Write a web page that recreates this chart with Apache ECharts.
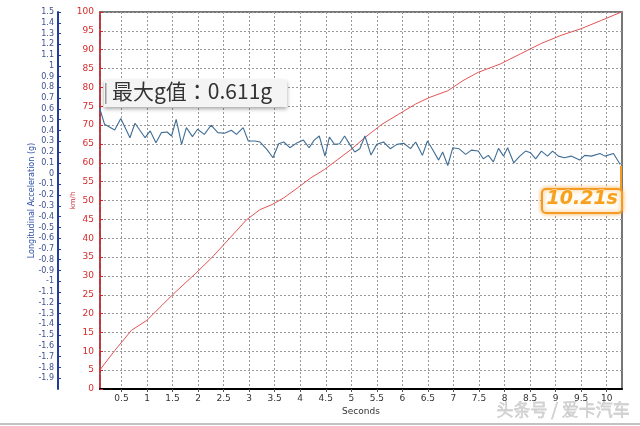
<!DOCTYPE html>
<html>
<head>
<meta charset="utf-8">
<script src="https://cdn.jsdelivr.net/npm/echarts@6/dist/echarts.min.js"></script>
<style>
html,body{margin:0;padding:0;background:#fff;}
#chart{width:640px;height:426px;}
</style>
</head>
<body>
<div id="chart"></div>
<script>
// ---- data ----
const gTime = [0.07,0.169,0.368,0.487,0.666,0.765,0.963,1.063,1.175,1.281,1.394,1.48,1.572,1.678,1.771,1.89,1.99,2.122,2.254,2.387,2.519,2.652,2.751,2.883,2.983,3.115,3.214,3.347,3.466,3.578,3.678,3.797,3.943,4.062,4.174,4.274,4.373,4.485,4.571,4.671,4.77,4.869,4.969,5.068,5.167,5.267,5.386,5.498,5.631,5.763,5.895,6.028,6.16,6.26,6.392,6.491,6.591,6.71,6.789,6.889,6.988,7.107,7.24,7.352,7.485,7.584,7.683,7.782,7.882,7.981,8.06,8.18,8.299,8.411,8.51,8.61,8.722,8.842,8.941,9.053,9.173,9.305,9.471,9.57,9.702,9.868,9.967,10.133,10.265];
const gValue = [0.611,0.458,0.405,0.511,0.333,0.467,0.333,0.396,0.287,0.38,0.386,0.349,0.504,0.271,0.427,0.343,0.411,0.364,0.449,0.38,0.374,0.402,0.364,0.427,0.302,0.302,0.293,0.224,0.147,0.277,0.293,0.24,0.287,0.311,0.24,0.311,0.349,0.162,0.339,0.271,0.277,0.349,0.271,0.2,0.231,0.349,0.172,0.271,0.293,0.231,0.271,0.281,0.231,0.293,0.169,0.302,0.224,0.125,0.2,0.075,0.24,0.231,0.178,0.218,0.209,0.137,0.169,0.109,0.234,0.162,0.24,0.1,0.162,0.209,0.193,0.137,0.209,0.162,0.209,0.162,0.147,0.162,0.125,0.169,0.162,0.187,0.162,0.187,0.084];
const speedTime = [0.07,0.368,0.699,0.997,1.294,1.493,1.956,2.287,2.619,2.95,3.214,3.446,3.678,3.943,4.207,4.472,4.737,5.002,5.267,5.598,5.929,6.26,6.524,6.889,7.186,7.485,7.915,8.312,8.709,9.106,9.504,9.901,10.29];
const speedValue = [4.9,10.2,15.6,18.2,22.2,24.9,30.7,35.1,40,44.9,47.6,48.9,50.7,53.3,56,58.2,60.9,63.6,66.7,70.2,72.9,75.6,77.3,79.1,81.8,84,86.2,88.9,91.6,93.8,95.6,97.8,100];
const xTicks = [0.5,1,1.5,2,2.5,3,3.5,4,4.5,5,5.5,6,6.5,7,7.5,8,8.5,9,9.5,10];
const maxGText = '最大g值：0.611g';
const timeText = '10.21s';
const watermark = '头条号 / 爱卡汽车';

const gSeries = gTime.map((t, i) => [t, gValue[i]]);
const speedSeries = speedTime.map((t, i) => [t, speedValue[i]]);

const chart = echarts.init(document.getElementById('chart'), null, {renderer: 'canvas'});
const gridDash = {color: '#9a9a9a', width: 1, type: [2, 2]};

chart.setOption({
  animation: false,
  backgroundColor: '#fff',
  grid: {left: 100, right: 18, top: 12, bottom: 37, show: true, borderColor: '#4a4a4a', borderWidth: 1.5, backgroundColor: 'transparent'},
  xAxis: {
    type: 'value', min: 0.08, max: 10.3,
    name: 'Seconds', nameLocation: 'middle', nameGap: 18, nameMoveOverlap: false,
    nameTextStyle: {fontSize: 9, color: '#333', fontFamily: 'DejaVu Sans'},
    axisLine: {show: true, onZero: false, lineStyle: {color: '#000', width: 2}},
    axisTick: {show: true, length: 3, customValues: xTicks, lineStyle: {color: '#555'}},
    axisLabel: {customValues: xTicks, fontSize: 9, color: '#333', margin: 5, fontFamily: 'DejaVu Sans'},
    splitLine: {show: true, lineStyle: gridDash}
  },
  yAxis: [
    {
      type: 'value', position: 'left', offset: 42, min: -2, max: 1.5, interval: 0.1,
      name: 'Longitudinal Acceleration (g)', nameLocation: 'middle', nameGap: 22, nameMoveOverlap: false,
      nameTextStyle: {fontSize: 8, color: '#2d4fa6', fontFamily: 'DejaVu Sans'},
      axisLine: {show: true, onZero: false, lineStyle: {color: '#1f3c9e', width: 2}},
      axisTick: {show: true, inside: true, length: 3, lineStyle: {color: '#1f3c9e'}},
      axisLabel: {fontSize: 8, color: '#3c4f8e', margin: 4, showMinLabel: false, fontFamily: 'DejaVu Sans'},
      splitLine: {show: false}
    },
    {
      type: 'value', position: 'left', offset: 0, min: 0, max: 100, interval: 5,
      name: 'km/h', nameLocation: 'middle', nameGap: 23, nameMoveOverlap: false,
      nameTextStyle: {fontSize: 7, color: '#c8262c', fontFamily: 'DejaVu Sans'},
      axisLine: {show: true, onZero: false, lineStyle: {color: '#d8242b', width: 1.5, type: [6, 2]}},
      axisTick: {show: true, inside: true, length: 3, lineStyle: {color: '#d8242b'}},
      axisLabel: {fontSize: 9, color: '#d42a2a', margin: 6, fontFamily: 'DejaVu Sans'},
      splitLine: {show: true, lineStyle: gridDash}
    }
  ],
  series: [
    {
      type: 'line', yAxisIndex: 1, data: speedSeries, symbol: 'none',
      lineStyle: {color: '#e25454', width: 1}, z: 3
    },
    {
      type: 'line', yAxisIndex: 0, data: gSeries, symbol: 'none',
      lineStyle: {color: '#3f6d94', width: 1.1}, z: 4,
      markLine: {
        silent: true, symbol: 'none', label: {show: false},
        lineStyle: {color: '#f59a23', width: 2, type: 'solid'},
        data: [[{coord: [10.27, 0.07]}, {coord: [10.27, -0.16]}]]
      }
    }
  ],
  graphic: [
    {
      type: 'rect', left: 104, top: 80, z: 50,
      shape: {width: 183, height: 27},
      style: {fill: '#f4f4f4', shadowColor: 'rgba(0,0,0,0.35)', shadowBlur: 4, shadowOffsetY: 2}
    },
    {
      type: 'rect', left: 105, top: 83, z: 51,
      shape: {width: 1.5, height: 21},
      style: {fill: '#9a9a9a'}
    },
    {
      type: 'text', left: 112, top: 81, z: 52,
      style: {text: maxGText, fontSize: 21, fill: '#333', fontFamily: '"Noto Sans CJK TC", "Noto Sans CJK SC", sans-serif'}
    },
    {
      type: 'rect', left: 541, top: 188, z: 50,
      shape: {width: 80, height: 24, r: 4},
      style: {fill: 'rgba(255,255,255,0.95)', stroke: '#f59a23', lineWidth: 2, shadowColor: 'rgba(245,154,35,0.7)', shadowBlur: 4}
    },
    {
      type: 'text', left: 546, top: 189, z: 52,
      style: {text: timeText, fontSize: 19, fontStyle: 'italic', fontWeight: 'bold', fill: '#f7a01e',
        stroke: '#fff4d8', lineWidth: 1, fontFamily: '"DejaVu Sans", sans-serif',
        shadowColor: 'rgba(120,160,220,0.6)', shadowBlur: 2}
    },
    {
      type: 'text', right: 10, top: 401, z: 52,
      style: {text: watermark, fontSize: 17, fill: '#d2d2d2', stroke: '#b0b0b0', lineWidth: 0.4,
        fontFamily: '"Noto Sans CJK SC", sans-serif'}
    },
    {
      type: 'line', z: 50,
      shape: {x1: 0, y1: 424, x2: 640, y2: 424},
      style: {stroke: '#c2c2c2', lineWidth: 2}
    }
  ]
});
</script>
</body>
</html>
